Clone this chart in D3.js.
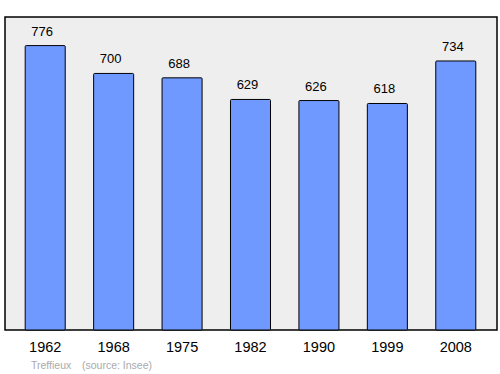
<!DOCTYPE html>
<html>
<head>
<meta charset="utf-8">
<script src="https://cdn.jsdelivr.net/npm/d3@7"></script>
<style>
  body { margin: 0; background: #fff; }
  text { font-family: "Liberation Sans", Arial, sans-serif; }
</style>
</head>
<body>
<svg id="chart" width="500" height="374"></svg>
<script>
// population by census year
const years = ["1962", "1968", "1975", "1982", "1990", "1999", "2008"];
const population = [776, 700, 688, 629, 626, 618, 734];
const commune = "Treffieux";
const source = "(source: Insee)";

let svg = d3.select("#chart");
let frame = {left: 5, top: 17, right: 497, bottom: 330};

// grey plot background
svg.append("rect")
   .attr("x", frame.left)
   .attr("y", frame.top)
   .attr("width", frame.right - frame.left)
   .attr("height", frame.bottom - frame.top)
   .attr("fill", "#eeeeee")
   .attr("stroke", "#000")
   .attr("stroke-width", 1.5);

let x = d3.scaleBand()
          .domain(years)
          .range([11, 490])
          .paddingInner(0.415)
          .paddingOuter(0.2075);

let y = d3.scaleLinear()
          .domain([0, 854])
          .range([frame.bottom, frame.top]);

let data = years.map(function(d, i) { return {year: d, value: population[i]}; });

svg.selectAll("rect.bar")
   .data(data)
   .enter()
   .append("rect")
   .attr("class", "bar")
   .attr("x", function(d) { return x(d.year); })
   .attr("y", function(d) { return y(d.value); })
   .attr("width", x.bandwidth())
   .attr("height", function(d) { return y(0) - y(d.value); })
   .attr("rx", 1)
   .attr("fill", "#7099ff")
   .attr("stroke", "#000")
   .attr("stroke-width", 1);

// value labels above bars (sit a little left of the bar centre)
svg.selectAll("text.value")
   .data(data)
   .enter()
   .append("text")
   .attr("class", "value")
   .attr("x", function(d) { return x(d.year) + x.bandwidth() / 2 - 3; })
   .attr("y", function(d) { return y(d.value) - 10; })
   .attr("text-anchor", "middle")
   .attr("font-size", 13)
   .attr("fill", "#000")
   .text(function(d) { return d.value; });

// year labels
svg.selectAll("text.year")
   .data(years)
   .enter()
   .append("text")
   .attr("class", "year")
   .attr("x", function(d) { return x(d) + x.bandwidth() / 2; })
   .attr("y", 352)
   .attr("text-anchor", "middle")
   .attr("font-size", 14.5)
   .attr("fill", "#000")
   .text(function(d) { return d; });

// footer
svg.append("text")
   .attr("x", 31)
   .attr("y", 369)
   .attr("font-size", 10.5)
   .attr("fill", "#aaaaaa")
   .text(commune);
svg.append("text")
   .attr("x", 82)
   .attr("y", 369)
   .attr("font-size", 10.5)
   .attr("fill", "#aaaaaa")
   .text(source);
</script>
</body>
</html>
